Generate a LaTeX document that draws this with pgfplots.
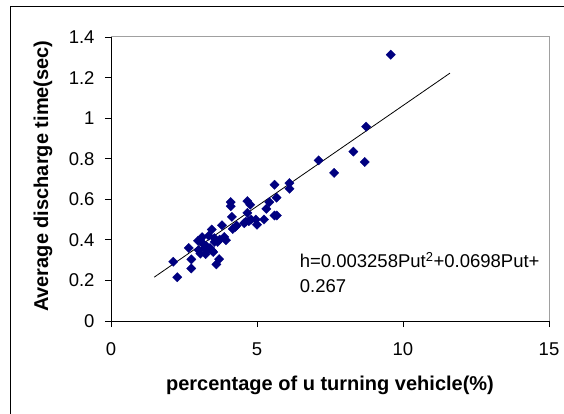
\documentclass[border=0pt]{standalone}
\usepackage{fontspec}
\setmainfont{Liberation Sans}
\usepackage{pgfplots}
\pgfplotsset{compat=1.18}
\definecolor{navy}{HTML}{000080}
\definecolor{boxgray}{HTML}{A0A0A0}

\begin{document}
\begin{tikzpicture}
% page: 564 x 414, plot box lower left at (0,0)
\useasboundingbox (-111bp,-93bp) rectangle (453bp,321bp);
\draw[black, line width=1bp] (-100bp,-93bp) -- (-100bp,314bp) -- (453bp,314bp);
\begin{axis}[
  scale only axis, width=438bp, height=284bp,
  xmin=0, xmax=15, ymin=0, ymax=1.4,
  xtick={0,5,10,15}, ytick={0,0.2,0.4,0.6,0.8,1,1.2,1.4},
  axis x line*=bottom, axis y line*=left,
  x axis line style={-}, y axis line style={-},
  axis line style={black, line width=0.8bp},
  tick align=outside, major tick length=6bp,
  tick style={black, line width=0.8bp},
  /pgf/number format/assume math mode=true,
  ticklabel style={font=\fontsize{18.5bp}{22bp}\selectfont},
  yticklabel style={xshift=-7bp},
  xticklabel style={yshift=-12bp},
  xlabel={\textbf{percentage of u turning vehicle(\%)}},
  ylabel={\textbf{Average discharge time(sec)}},
  xlabel style={font=\fontsize{20bp}{24bp}\selectfont,
    at={([yshift=-69.7bp]rel axis cs:0.5,0)}, anchor=base},
  ylabel style={font=\fontsize{20bp}{24bp}\selectfont,
    at={([xshift=-68bp]rel axis cs:0,0.51)}, anchor=center},
  clip=false,
]
\draw[boxgray, line width=1bp] (rel axis cs:0,1) -- (rel axis cs:1,1) -- (rel axis cs:1,0);

\addplot[only marks, mark=square*, mark size=3.3bp, navy,
  mark options={rotate=45, fill=navy, draw=navy, line width=0.3bp}] coordinates {
  (9.58,1.313) (8.74,0.958) (8.30,0.835) (8.69,0.784) (7.64,0.730) (7.11,0.792)
  (6.11,0.680) (6.11,0.652) (5.60,0.672) (5.67,0.608) (5.60,0.520) (5.68,0.520)
  (5.42,0.586) (5.32,0.553) (5.24,0.500) (5.00,0.475) (4.96,0.500) (4.67,0.591)
  (4.77,0.573) (4.67,0.533) (4.72,0.492) (4.56,0.482) (4.10,0.586) (4.10,0.566)
  (4.14,0.513) (4.17,0.454) (4.26,0.464) (3.80,0.472) (3.94,0.398) (3.88,0.414)
  (3.45,0.451) (3.54,0.408) (3.65,0.390) (3.46,0.347) (3.33,0.352) (3.24,0.330)
  (3.16,0.380) (3.12,0.413) (2.98,0.396) (3.06,0.332) (3.70,0.305) (3.61,0.279)
  (2.66,0.360) (2.75,0.304) (2.75,0.259) (2.13,0.292) (2.27,0.216) (3.27,0.368)
  (3.39,0.360) (3.72,0.401) (3.05,0.400) (3.20,0.360) (3.35,0.420) (3.50,0.340)
  (3.55,0.390) (3.00,0.350) (4.30,0.470) (4.62,0.490) (4.80,0.500)
};
\addplot[black, line width=0.8bp] coordinates {(1.48,0.216) (11.61,1.222)};

\node[anchor=base west, font=\fontsize{18.5bp}{22bp}\selectfont, inner sep=0pt]
  at (axis cs:6.46,0.263) {h=0.003258Put\textsuperscript{2}+0.0698Put+};
\node[anchor=base west, font=\fontsize{18.5bp}{22bp}\selectfont, inner sep=0pt]
  at (axis cs:6.46,0.140) {0.267};
\end{axis}
\end{tikzpicture}
\end{document}
